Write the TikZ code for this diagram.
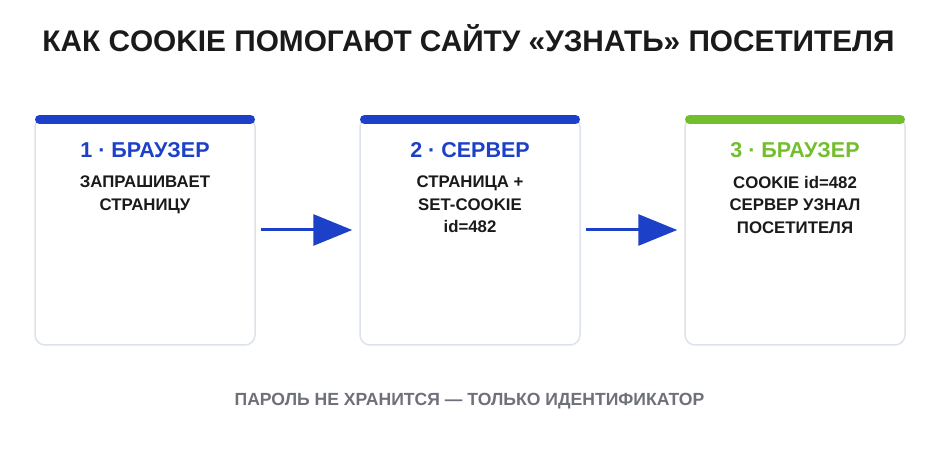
\documentclass[tikz,border=0pt]{standalone}
\usepackage{fontspec}
\setmainfont{Liberation Sans}
\usetikzlibrary{arrows.meta}
\definecolor{cblue}{HTML}{1C40C8}
\definecolor{cgreen}{HTML}{72BE2C}
\definecolor{cborder}{HTML}{DDE3EA}
\definecolor{cgrey}{HTML}{6E717A}
\definecolor{ctext}{HTML}{1A1A1A}
\tikzset{
  card/.style={draw=cborder, line width=1.5pt, fill=white, rounded corners=10pt, minimum width=220pt, minimum height=228pt, inner sep=0pt},
  topbar/.style={line width=9pt, line cap=round},
  headtxt/.style={font=\bfseries\fontsize{21.5}{25}\selectfont, anchor=base},
  bodytxt/.style={font=\bfseries\fontsize{16.8}{22.6}\selectfont, text=ctext, align=center, anchor=north, inner sep=0pt},
  flow/.style={draw=cblue, line width=3pt, -{Triangle[length=39pt,width=31pt]}, shorten <=5pt, shorten >=7pt},
}
\begin{document}
\begin{tikzpicture}[x=1pt,y=1pt]
\path[fill=white] (0,0) rectangle (940,-470);
\useasboundingbox (0,0) rectangle (940,-470);
\node[anchor=base, text=ctext, font=\bfseries\fontsize{29.8}{34}\selectfont] (title) at (468.5,-52) {КАК COOKIE ПОМОГАЮТ САЙТУ «УЗНАТЬ» ПОСЕТИТЕЛЯ};
% cards
\node[card] (b1) at (145,-231) {};
\node[card] (b2) at (470,-231) {};
\node[card] (b3) at (795,-231) {};
\draw[topbar, cblue] (39.5,-119.5) -- (250.5,-119.5);
\draw[topbar, cblue] (364.5,-119.5) -- (575.5,-119.5);
\draw[topbar, cgreen] (689.5,-119.5) -- (900.5,-119.5);
% headers
\node[headtxt, text=cblue] (h1) at (145,-157.5) {1 · БРАУЗЕР};
\node[headtxt, text=cblue] (h2) at (470,-157.5) {2 · СЕРВЕР};
\node[headtxt, text=cgreen] (h3) at (795,-157.5) {3 · БРАУЗЕР};
% bodies
\node[bodytxt] (t1) at (145,-175.8) {ЗАПРАШИВАЕТ\\СТРАНИЦУ};
\node[bodytxt] (t2) at (470,-175.8) {СТРАНИЦА +\\SET-COOKIE\\id=482};
\node[bodytxt] (t3) at (795,-175.8) {COOKIE id=482\\СЕРВЕР УЗНАЛ\\ПОСЕТИТЕЛЯ};
% arrows
\draw[flow] (b1.east |- 0,-230) -- (b2.west |- 0,-230);
\draw[flow] (b2.east |- 0,-230) -- (b3.west |- 0,-230);
% footer
\node[anchor=base, text=cgrey, font=\bfseries\fontsize{17.6}{20}\selectfont] (foot) at (469.5,-405) {ПАРОЛЬ НЕ ХРАНИТСЯ — ТОЛЬКО ИДЕНТИФИКАТОР};
\end{tikzpicture}
\end{document}
